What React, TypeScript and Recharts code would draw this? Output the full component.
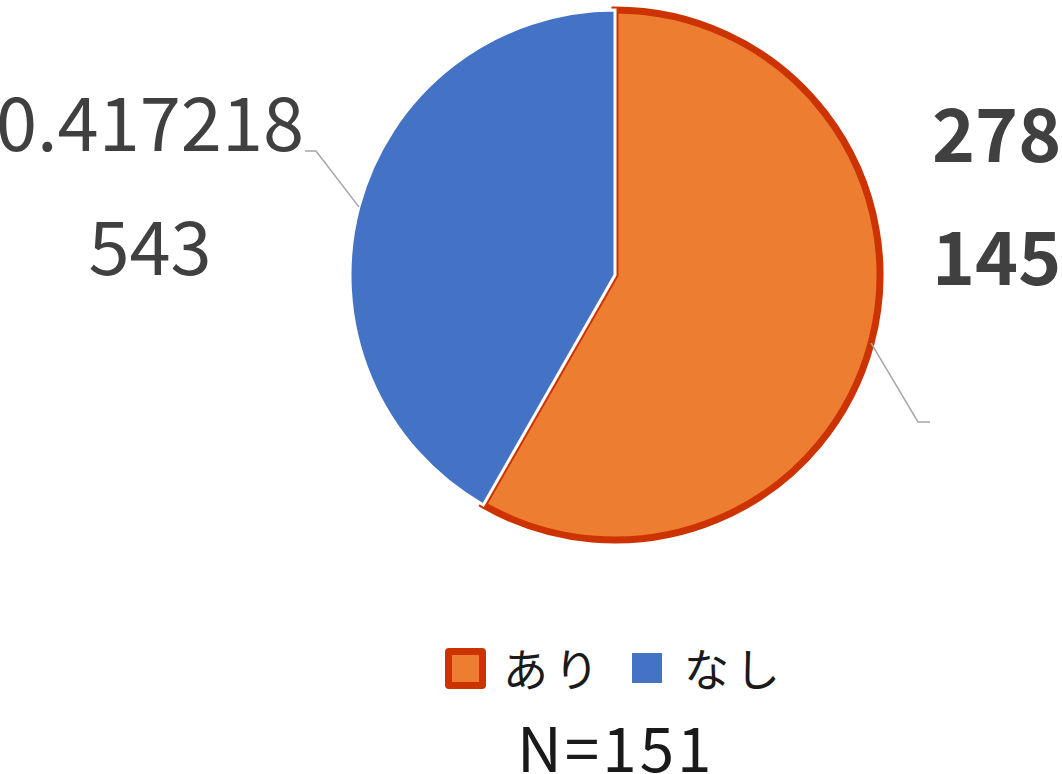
import { PieChart, Pie, Cell, Legend } from 'recharts'

const categories = ['あり', 'なし']
const counts = [88, 63]
const fills = ['#ED7D31', '#4472C4']
const strokes = ['#CC3300', '#FFFFFF']
const strokeWidths = [7, 3]
// data label text as it appears (clipped) in the original
const labelLines = [
  ['278', '145'],
  ['0.417218', '543'],
]
const sampleNote = 'N=151'

const data = categories.map((name, i) => ({ name, value: counts[i] }))

const FONT = '"Noto Sans CJK JP", "Noto Sans", sans-serif'
const RAD = Math.PI / 180

function SliceLabel(props: any) {
  const { cx, cy, midAngle, outerRadius, index } = props
  const sx = cx + outerRadius * Math.cos(-midAngle * RAD)
  const sy = cy + outerRadius * Math.sin(-midAngle * RAD)
  const lines = labelLines[index]
  if (index === 0) {
    // right side label, bold
    const ex = cx + 303
    const ey = cy + 147
    return (
      <g>
        <polyline
          points={`${sx},${sy} ${ex},${ey} ${ex + 12},${ey}`}
          fill="none"
          stroke="#A6A6A6"
          strokeWidth={1.5}
        />
        <text x={cx + 317} y={cy - 113} fill="#404040" fontSize={73} fontWeight={700} fontFamily={FONT}>
          {lines[0]}
        </text>
        <text x={cx + 317} y={cy + 10} fill="#404040" fontSize={73} fontWeight={700} fontFamily={FONT}>
          {lines[1]}
        </text>
      </g>
    )
  }
  const ex = cx - 299
  const ey = cy - 124
  return (
    <g>
      <polyline
        points={`${sx},${sy} ${ex},${ey} ${ex - 11},${ey}`}
        fill="none"
        stroke="#A6A6A6"
        strokeWidth={1.5}
      />
      <text x={cx - 465} y={cy - 124} textAnchor="middle" fill="#404040" fontSize={74} fontFamily={FONT}>
        {lines[0]}
      </text>
      <text x={cx - 465} y={cy} textAnchor="middle" fill="#404040" fontSize={74} fontFamily={FONT}>
        {lines[1]}
      </text>
    </g>
  )
}

function LegendBox() {
  return (
    <div style={{ fontFamily: FONT, color: '#1a1a1a' }}>
      <div style={{ display: 'flex', alignItems: 'center', paddingLeft: 445, height: 46 }}>
        <span
          style={{
            display: 'inline-block',
            width: 27,
            height: 27,
            background: fills[0],
            border: `7px solid ${strokes[0]}`,
            borderRadius: 4,
          }}
        />
        <span style={{ fontSize: 45, marginLeft: 17, lineHeight: '46px', letterSpacing: 6 }}>
          {categories[0]}
        </span>
        <span
          style={{
            display: 'inline-block',
            width: 30,
            height: 30,
            background: fills[1],
            marginLeft: 27,
          }}
        />
        <span style={{ fontSize: 45, marginLeft: 22, lineHeight: '46px', letterSpacing: 6 }}>
          {categories[1]}
        </span>
      </div>
      <div style={{ paddingLeft: 517, marginTop: 23, fontSize: 62, lineHeight: '62px', letterSpacing: 3 }}>
        {sampleNote}
      </div>
    </div>
  )
}

export default function App() {
  return (
    <div style={{ position: 'absolute', left: 0, top: 0, width: 1062, height: 774, background: '#fff', overflow: 'hidden' }}>
      <PieChart width={1062} height={774} margin={{ top: 0, right: 0, bottom: 0, left: 0 }}>
        <Pie
          data={data}
          dataKey="value"
          nameKey="name"
          cx={615}
          cy={275}
          outerRadius={265}
          startAngle={90}
          endAngle={-270}
          label={SliceLabel}
          labelLine={false}
          isAnimationActive={false}
        >
          {data.map((d, i) => (
            <Cell key={d.name} fill={fills[i]} stroke={strokes[i]} strokeWidth={strokeWidths[i]} />
          ))}
        </Pie>
        <Legend content={<LegendBox />} wrapperStyle={{ position: 'absolute', top: 645, left: 0, width: 1062 }} />
      </PieChart>
    </div>
  )
}
